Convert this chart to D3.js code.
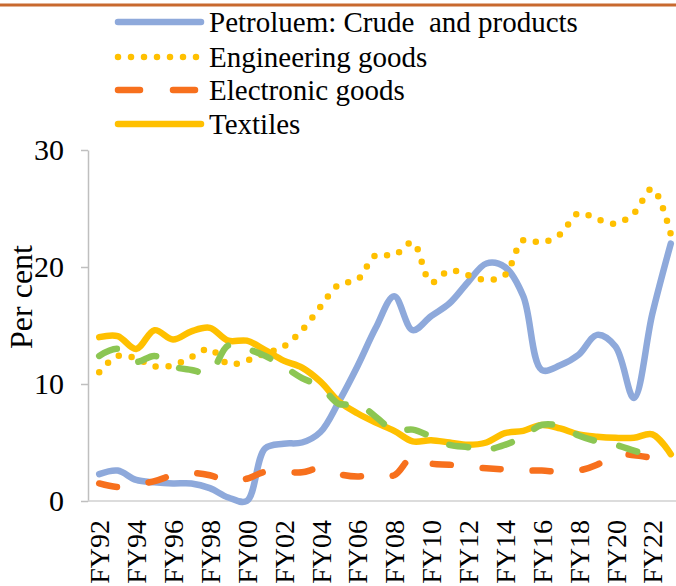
<!DOCTYPE html>
<html>
<head>
<meta charset="utf-8">
<script src="https://cdn.jsdelivr.net/npm/d3@7"></script>
<style>
  html, body { margin: 0; padding: 0; background: #fff; }
  svg { display: block; }
  text { font-family: "Liberation Serif", "Times New Roman", serif; fill: #000; }
</style>
</head>
<body>
<svg id="chart" width="676" height="586"></svg>
<script>
const categories = ["FY92","FY93","FY94","FY95","FY96","FY97","FY98","FY99","FY00","FY01","FY02","FY03","FY04","FY05","FY06","FY07","FY08","FY09","FY10","FY11","FY12","FY13","FY14","FY15","FY16","FY17","FY18","FY19","FY20","FY21","FY22","FY23"];
const tickLabels = ["FY92","FY94","FY96","FY98","FY00","FY02","FY04","FY06","FY08","FY10","FY12","FY14","FY16","FY18","FY20","FY22"];
const yTicks = [0, 10, 20, 30];

const petroleum   = [2.3, 2.6, 1.8, 1.6, 1.5, 1.5, 1.1, 0.3, 0.0, 4.5, 4.9, 5.0, 5.9, 8.5, 11.5, 14.8, 17.5, 14.6, 15.8, 16.9, 18.7, 20.3, 20.0, 17.5, 11.2, 11.6, 12.5, 14.2, 13.2, 8.8, 16.0, 22.0];
const engineering = [11.0, 12.4, 12.2, 11.5, 11.6, 12.3, 13.0, 11.7, 12.0, 12.6, 13.2, 14.6, 16.6, 18.5, 18.9, 21.0, 21.0, 22.1, 18.7, 19.7, 19.3, 18.9, 19.3, 22.3, 22.1, 22.8, 24.6, 24.1, 23.7, 24.6, 26.7, 22.8];
const electronic  = [1.5, 1.2, 1.4, 1.7, 2.2, 2.4, 2.2, 1.7, 1.9, 2.5, 2.5, 2.45, 2.8, 2.3, 2.1, 2.3, 2.2, 3.8, 3.2, 3.1, 2.9, 2.8, 2.7, 2.6, 2.6, 2.5, 2.6, 3.1, 4.0, 3.9, 3.7];
const textiles    = [14.0, 14.1, 13.0, 14.6, 13.8, 14.5, 14.8, 13.7, 13.7, 12.9, 12.0, 11.4, 10.2, 8.5, 7.5, 6.7, 6.0, 5.1, 5.2, 5.0, 4.8, 5.0, 5.8, 6.0, 6.5, 6.2, 5.7, 5.5, 5.4, 5.4, 5.7, 4.0];
const gems        = [12.4, 13.0, 11.9, 12.4, 11.5, 11.2, 11.0, 13.3, 13.0, 12.4, 11.5, 10.5, 9.8, 8.3, 8.3, 7.2, 6.0, 6.1, 5.5, 4.8, 4.6, 4.4, 4.8, 5.5, 6.5, 6.4, 5.6, 5.1, 4.8, 4.3, 3.8];

const legendNames = ["Petroluem: Crude  and products", "Engineering goods", "Electronic goods", "Textiles"];

const series = [
  { name: legendNames[0], values: petroleum,   color: "#8EA9DB", width: 6.5, dash: null,    cap: "round" },
  { name: legendNames[1], values: engineering, color: "#FFC000", width: 6.5, dash: "0 13",  cap: "round" },
  { name: legendNames[2], values: electronic,  color: "#F7701D", width: 6.5, dash: "18 32", cap: "round" },
  { name: legendNames[3], values: textiles,    color: "#FFC000", width: 6.5, dash: null,    cap: "round" },
  { name: null,           values: gems,        color: "#8CC653", width: 6.5, dash: "19 26", cap: "round" }
];

const svg = d3.select("#chart");

// top rule
svg.append("line").attr("x1", 0).attr("x2", 676).attr("y1", 5).attr("y2", 5)
  .attr("stroke", "#C8692E").attr("stroke-width", 3);

const x = d3.scalePoint().domain(categories).range([90, 680]).padding(0.5);
const y = d3.scaleLinear().domain([0, 30]).range([501, 150]);

// y axis
const yAxis = svg.append("g").attr("transform", "translate(88,0)")
  .call(d3.axisLeft(y).tickValues(yTicks).tickSize(7).tickPadding(17).tickSizeOuter(0));
yAxis.attr("font-family", null);
yAxis.select(".domain").attr("stroke", "#BFBFBF").attr("stroke-width", 1.5);
yAxis.selectAll(".tick line").attr("stroke", "#BFBFBF").attr("stroke-width", 1.5);
yAxis.selectAll(".tick text").attr("font-size", 30).attr("fill", "#000");

// x axis
const xAxis = svg.append("g").attr("transform", "translate(0,501)")
  .call(d3.axisBottom(x).tickValues(tickLabels).tickSize(0).tickSizeOuter(0));
xAxis.attr("font-family", null);
xAxis.select(".domain").attr("d", "M88,0H676").attr("stroke", "#D0D0D0").attr("stroke-width", 1.5);
xAxis.selectAll(".tick text")
  .attr("font-size", 28).attr("fill", "#000")
  .attr("text-anchor", "end")
  .attr("transform", "translate(0,19) rotate(-90)")
  .attr("x", 0).attr("y", 0).attr("dy", "0.34em");

// y title
svg.append("text").attr("transform", "translate(32,297) rotate(-90)")
  .attr("text-anchor", "middle").attr("font-size", 32).text("Per cent");

// lines
const line = d3.line()
  .defined(d => d != null)
  .x((d, i) => x(categories[i]))
  .y(d => y(d))
  .curve(d3.curveCatmullRom.alpha(0.5));

const linesG = svg.append("g");
series.forEach(s => {
  linesG.append("path")
    .datum(s.values)
    .attr("d", line)
    .attr("fill", "none")
    .attr("stroke", s.color)
    .attr("stroke-width", s.width)
    .attr("stroke-linecap", s.cap)
    .attr("stroke-linejoin", "round")
    .attr("stroke-dasharray", s.dash);
});

// legend
const legendY = [22, 57, 90, 124];
const lg = svg.append("g");
series.slice(0, 4).forEach((s, i) => {
  const yy = legendY[i];
  lg.append("line")
    .attr("x1", 118).attr("x2", 201).attr("y1", yy).attr("y2", yy)
    .attr("stroke", s.color).attr("stroke-width", s.width)
    .attr("stroke-linecap", s.cap)
    .attr("stroke-dasharray", s.dash === "18 32" ? "22 33" : s.dash);
  lg.append("text").attr("x", 209).attr("y", yy).attr("dy", "0.35em")
    .attr("font-size", 29).style("white-space", "pre").text(s.name);
});
</script>
</body>
</html>
